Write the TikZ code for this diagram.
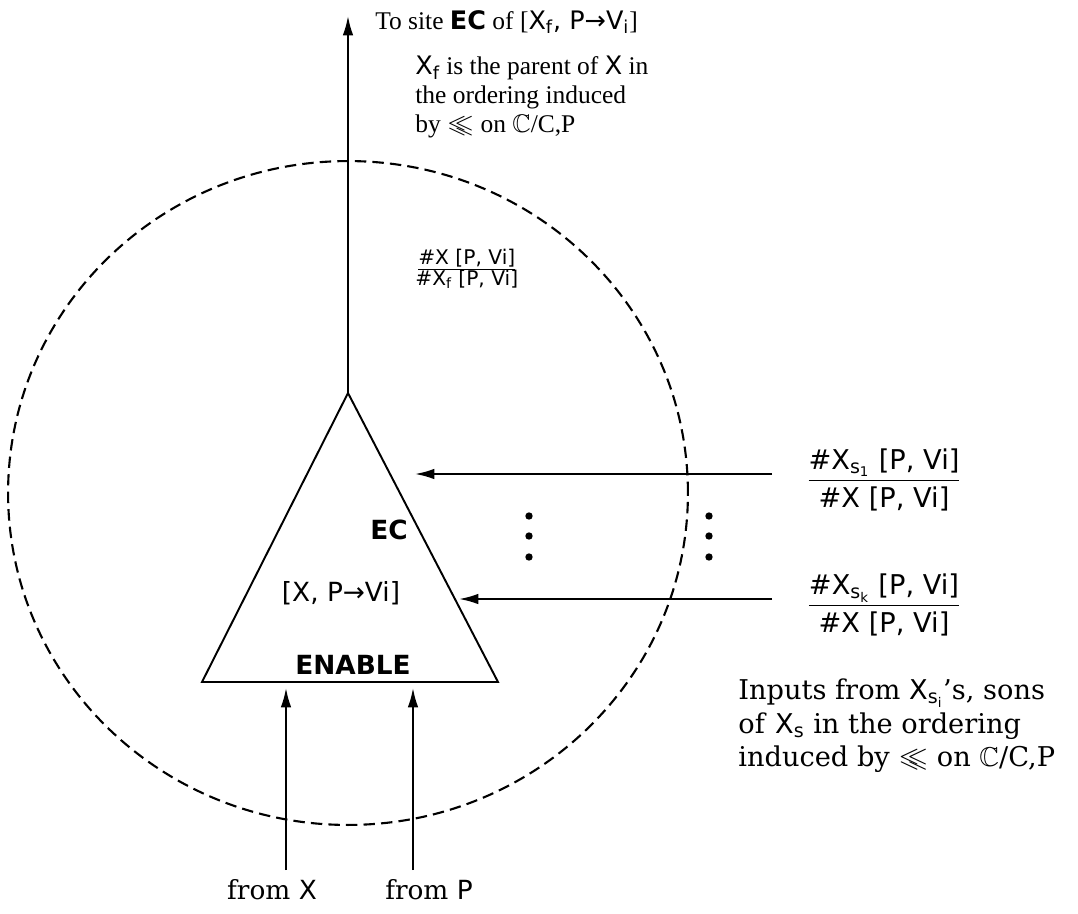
\documentclass[tikz,border=0pt]{standalone}
\usepackage{amssymb}
\usepackage{fontspec}
\setmainfont{DejaVu Serif}
\setsansfont{DejaVu Sans}
\newfontfamily\narrowserif{Liberation Serif}
\usetikzlibrary{arrows.meta,positioning,calc}
\newcommand{\ordrel}{\ensuremath{\leqslant\mkern-9mu\leqslant}}
\newcommand{\cat}{\ensuremath{\mathbb{C}}}
\tikzset{
  wire/.style={line width=1.1pt},
  feed/.style={wire,-{Latex[length=11pt,width=6pt]}},
  site bound/.style={line width=1.2pt,dash pattern=on 6.5pt off 3.5pt},
  note/.style={font=\fontsize{15.5}{19}\selectfont,align=left,inner sep=0pt},
  small note/.style={font=\fontsize{14.5}{16.5}\selectfont\narrowserif,align=left,inner sep=0pt},
  ratio/.style={font=\fontsize{15.5}{19.4}\selectfont\sffamily,align=center,inner sep=0pt},
  celltext/.style={font=\fontsize{15}{18}\selectfont\sffamily,inner sep=0pt},
  dot/.style={circle,fill,inner sep=0pt,minimum size=4.2pt},
}

\begin{document}
\begin{tikzpicture}[x=0.02cm,y=-0.02cm]
\useasboundingbox (0,0) rectangle (1078,913);

% site boundary
\draw[site bound] (348,493) ellipse [x radius=6.8cm,y radius=6.64cm];

% the EC cell
\coordinate (apex) at (348,393);
\coordinate (baseL) at (202,682);
\coordinate (baseR) at (498,682);
\draw[wire,line join=miter] (apex) -- (baseL) -- (baseR) -- cycle;

\node[celltext,font=\fontsize{15}{18}\selectfont\sffamily\bfseries] (ec) at (389,530) {EC};
\node[celltext] (cell) at (341,593) {[X, P→Vi]};
\node[celltext,font=\fontsize{15}{18}\selectfont\sffamily\bfseries] (enable) at (353,665) {ENABLE};

% output to the parent site
\coordinate (out) at (348,16);
\draw[feed] (apex) -- (out);
\node[small note,anchor=base west] (dest) at (375,29) {To site \textsf{\textbf{EC}} of [\textsf{X\textsubscript{f}, P→V\textsubscript{i}}]};
\node[small note,anchor=west] (parent) at (415,97) {\textsf{X\textsubscript{f}} is the parent of \textsf{X} in\\the ordering induced\\by \ordrel{} on \cat/C,P};
\node[ratio,font=\fontsize{11.5}{14}\selectfont\sffamily,anchor=west] (upratio) at (415,269) {\underline{\#X [P, Vi]}\\[-2pt]\#X\textsubscript{f} [P, Vi]};

% inputs from the sons
\node[ratio] (ratio1) at (884,480) {\underline{\#X\textsubscript{s\textsubscript{1}} [P, Vi]}\\[2pt]\#X [P, Vi]};
\node[ratio] (ratiok) at (884,605) {\underline{\#X\textsubscript{s\textsubscript{k}} [P, Vi]}\\[2pt]\#X [P, Vi]};
\coordinate (src1) at (772,474);
\coordinate (dst1) at (415,474);
\coordinate (srck) at (772,599);
\coordinate (dstk) at (459,599);
\draw[feed] (src1) -- (dst1);
\draw[feed] (srck) -- (dstk);
\foreach \x in {529,709}
  \foreach \y in {516,536,557}
    \node[dot] at (\x,\y) {};

\node[note,anchor=west] (sons) at (738,726) {Inputs from \textsf{X\textsubscript{s\textsubscript{i}}}'s, sons\\of \textsf{X\textsubscript{s}} in the ordering\\induced by \ordrel{} on \cat/C,P};

% enabling inputs
\node[note,font=\fontsize{15}{18}\selectfont] (fromX) at (272,890) {from \textsf{X}};
\node[note,font=\fontsize{15}{18}\selectfont] (fromP) at (429,890) {from \textsf{P}};
\coordinate (inX) at (286,870);
\coordinate (inP) at (413,870);
\coordinate (endX) at (286,688);
\coordinate (endP) at (413,688);
\draw[feed] (inX) -- (endX);
\draw[feed] (inP) -- (endP);

\end{tikzpicture}
\end{document}
